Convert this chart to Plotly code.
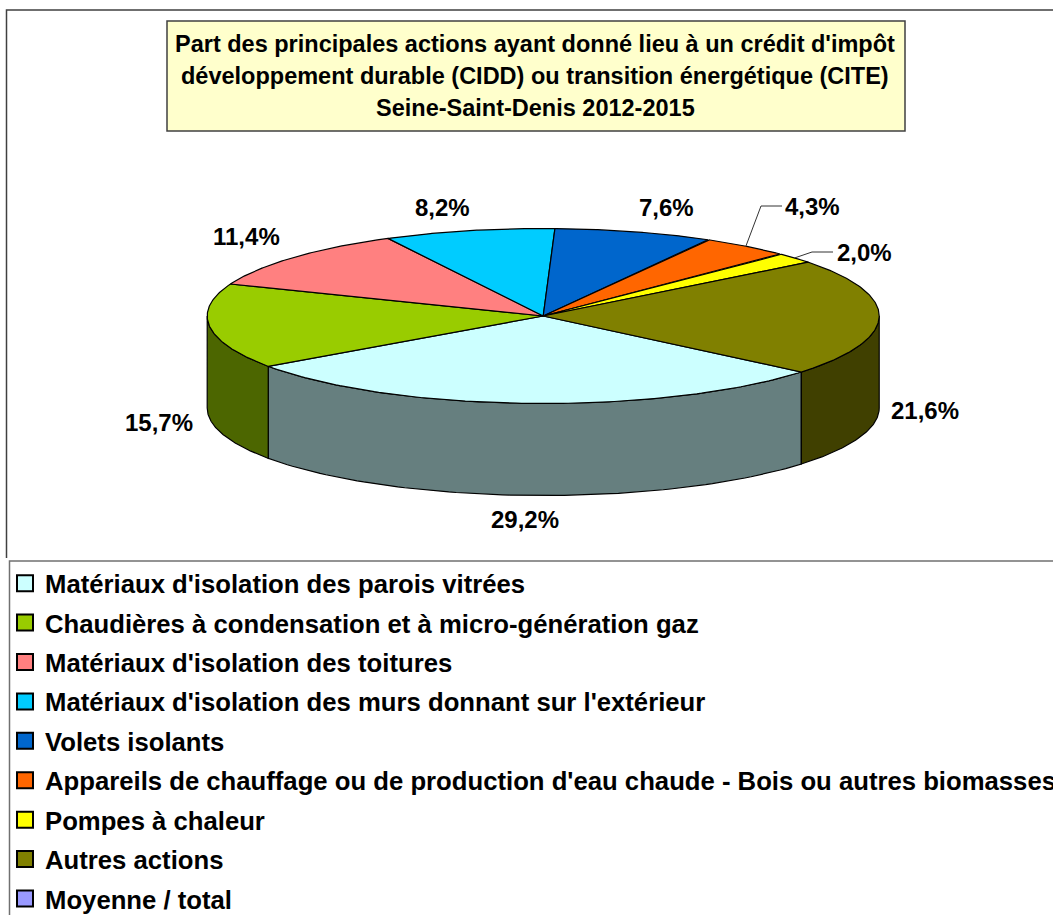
import numpy as np
import plotly.graph_objects as go

CATEGORIES = ["Matériaux d'isolation des parois vitrées",
              "Chaudières à condensation et à micro-génération gaz",
              "Matériaux d'isolation des toitures",
              "Matériaux d'isolation des murs donnant sur l'extérieur",
              "Volets isolants",
              "Appareils de chauffage ou de production d'eau chaude - Bois ou autres biomasses",
              "Pompes à chaleur",
              "Autres actions"]
VALUES = [29.2, 15.7, 11.4, 8.2, 7.6, 4.3, 2.0, 21.6]
COLORS = ["#CCFFFF", "#99CC00", "#FF8080", "#00CCFF", "#0066CC", "#FF6600", "#FFFF00", "#808000"]
SIDE_COLORS = ["#667F7F", "#4C6600", "#804040", "#006680", "#003366", "#803300", "#808000", "#404000"]
EXTRA_LEGEND = "Moyenne / total"
EXTRA_COLOR = "#9999FF"
TITLE_LINES = ["Part des principales actions ayant donné lieu à un crédit d'impôt",
               "développement durable (CIDD) ou transition énergétique (CITE)",
               "Seine-Saint-Denis 2012-2015"]

# Pie geometry, in page pixels (the axes below map 1 unit to 1 pixel)
CX, CY, RX, RY, DEPTH, START = 543.2, 316.0, 336, 87.5, 92, 39.8
LABEL_POS = [(525, 519), (159, 422), (246, 236), (442, 207), (666, 207), (812, 206), (864, 252), (925, 410)]
FONT = "Liberation Sans, Arial, sans-serif"
LEFT = 5


def ell(t_deg, dy=0.0):
    t = np.radians(t_deg)
    return CX + RX * np.cos(t), CY + RY * np.sin(t) + dy


fig = go.Figure()
edges = START + np.concatenate([[0], np.cumsum(VALUES)]) * 3.6
spans = [(edges[i], edges[i + 1]) for i in range(len(VALUES))]

# side walls: only the part of each slice facing the viewer (0..180 degrees, modulo 360)
for i, (a, b) in enumerate(spans):
    for off in (0, -360):
        lo, hi = max(a + off, 0), min(b + off, 180)
        if hi <= lo:
            continue
        t = np.linspace(lo, hi, 80)
        x1, y1 = ell(t)
        x2, y2 = ell(t[::-1], DEPTH)
        fig.add_trace(go.Scatter(x=np.r_[x1, x2, x1[0]], y=np.r_[y1, y2, y1[0]], mode="lines", fill="toself",
                                 fillcolor=SIDE_COLORS[i], line=dict(color="#000000", width=1.2),
                                 showlegend=False, hoverinfo="skip"))

# top faces
for i, (a, b) in enumerate(spans):
    t = np.linspace(a, b, 120)
    x, y = ell(t)
    fig.add_trace(go.Scatter(x=np.r_[CX, x, CX], y=np.r_[CY, y, CY], mode="lines", fill="toself",
                             fillcolor=COLORS[i], line=dict(color="#000000", width=1.2),
                             showlegend=False, name=CATEGORIES[i],
                             hovertemplate=f"{CATEGORIES[i]}: {VALUES[i]}%<extra></extra>"))

# legend entries
for i, (name, col) in enumerate(zip(CATEGORIES + [EXTRA_LEGEND], COLORS + [EXTRA_COLOR])):
    fig.add_trace(go.Scatter(x=[None], y=[None], mode="markers", name=name, legendgroup=f"g{i}",
                             marker=dict(symbol="square", size=16, color=col, line=dict(color="#000000", width=2))))

# leader lines for the two thin slices
mid = [(a + b) / 2 for a, b in spans]
x5, y5 = ell(mid[5])
x6, y6 = ell(mid[6])
fig.add_trace(go.Scatter(x=[x5, 761, 782], y=[y5, 206, 206], mode="lines", line=dict(color="#333333", width=1),
                         showlegend=False, hoverinfo="skip"))
fig.add_trace(go.Scatter(x=[x6, 812, 833], y=[y6, 252, 252], mode="lines", line=dict(color="#333333", width=1),
                         showlegend=False, hoverinfo="skip"))

annotations = []
for v, (px_, py_) in zip(VALUES, LABEL_POS):
    annotations.append(dict(x=px_, y=py_, xref="x", yref="y", showarrow=False,
                            text="<b>" + f"{v:.1f}%".replace(".", ",") + "</b>",
                            font=dict(family=FONT, size=24, color="#000000"), xanchor="center", yanchor="middle"))
for line, py_ in zip(TITLE_LINES, (44, 76, 108)):
    annotations.append(dict(x=535, y=py_, xref="x", yref="y", showarrow=False, text=f"<b>{line}</b>",
                            font=dict(family=FONT, size=23.5, color="#000000"), xanchor="center", yanchor="middle"))


def px(v):
    return (v - LEFT) / (1053 - LEFT)


def py(v):
    return 1 - v / 915


shapes = [
    dict(type="path", xref="paper", yref="paper",
         path=f"M {px(6.5)} {py(558)} L {px(6.5)} {py(10)} L {px(1060)} {py(10)}",
         line=dict(color="#404040", width=1.5), layer="below"),
    dict(type="rect", x0=167, y0=21, x1=905, y1=131, fillcolor="#FFFFCC", line=dict(color="#404040", width=1.5), layer="below"),
    dict(type="path", xref="paper", yref="paper",
         path=f"M {px(9.5)} {py(930)} L {px(9.5)} {py(561)} L {px(1060)} {py(561)}",
         line=dict(color="#707070", width=1.5), layer="below"),
]

fig.update_layout(
    width=1053, height=915, margin=dict(l=LEFT, r=0, t=0, b=0, autoexpand=False),
    paper_bgcolor="#FFFFFF", plot_bgcolor="rgba(0,0,0,0)",
    xaxis=dict(range=[LEFT, 1053], visible=False, fixedrange=True),
    yaxis=dict(range=[915, 0], visible=False, fixedrange=True),
    shapes=shapes, annotations=annotations, hovermode="closest",
    legend=dict(x=0, xanchor="left", y=py(560), yanchor="top", orientation="v", itemsizing="trace",
                tracegroupgap=3, bgcolor="rgba(0,0,0,0)", borderwidth=0,
                font=dict(family=FONT, size=25.7, color="#000000", weight="bold"),
                itemclick=False, itemdoubleclick=False),
)
fig.write_html("out.html", config={"displayModeBar": False},
               post_script="document.body.style.margin='0';document.body.style.overflow='hidden';")
